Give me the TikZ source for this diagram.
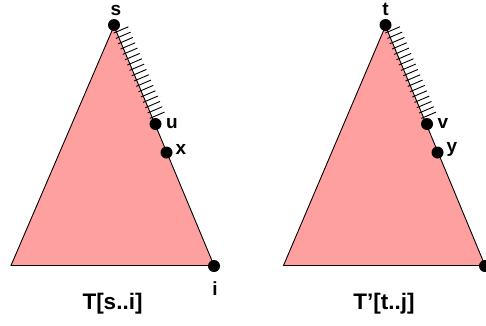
\documentclass[tikz,border=0pt]{standalone}
\usepackage{fontspec}
\setmainfont{Liberation Sans}
\usetikzlibrary{calc}
\definecolor{treepink}{RGB}{255,160,160}
\tikzset{
  tri/.style={fill=treepink,draw=black,line width=0.9pt,line join=miter},
  dot/.style={circle,fill=black,inner sep=0pt,minimum size=12pt},
  lbl/.style={font=\bfseries\fontsize{19}{19}\selectfont,inner sep=0pt,anchor=base},
  ttl/.style={font=\bfseries\fontsize{22.5}{22.5}\selectfont,inner sep=0pt,anchor=base},
  hatch/.style={line width=0.9pt}
}
\begin{document}
\begin{tikzpicture}[x=1pt,y=-1pt]
\useasboundingbox (0,0) rectangle (486,325);
% left tree
\coordinate (A1) at (114,26);
\coordinate (L1) at (11,265.5);
\coordinate (R1) at (214,265.5);
\filldraw[tri] (A1) -- (L1) -- (R1) -- cycle;
\node[dot] (s) at (114,25) {};
\node[dot] (u) at (155.5,124) {};
\node[dot] (x) at (166.5,152.5) {};
\node[dot] (i) at (214,266) {};
\foreach \k in {0,...,16} {
  \pgfmathsetmacro\f{0.06+\k*0.0544}
  \draw[hatch] ($(A1)!\f!(u)$) ++(-2.8,1.2) -- ++(14.7,-6.3);
}
\node[lbl] (sl) at (116,15) {s};
\node[lbl] (ul) at (172,128) {u};
\node[lbl] (xl) at (181,154) {x};
\node[lbl] (il) at (215,295) {i};
\node[ttl] (T1) at (112.5,309) {T[s..i]};
% right tree
\coordinate (A2) at (385.5,26);
\coordinate (L2) at (283.5,265.5);
\coordinate (R2) at (485,265.5);
\filldraw[tri] (A2) -- (L2) -- (R2) -- cycle;
\node[dot] (t) at (385.5,25) {};
\node[dot] (v) at (427,124) {};
\node[dot] (y) at (437.5,152.5) {};
\node[dot] (j) at (485,266) {};
\foreach \k in {0,...,16} {
  \pgfmathsetmacro\f{0.06+\k*0.0544}
  \draw[hatch] ($(A2)!\f!(v)$) ++(-2.8,1.2) -- ++(14.7,-6.3);
}
\node[lbl] (tl) at (385.5,15) {t};
\node[lbl] (vl) at (443,128) {v};
\node[lbl] (yl) at (452,152) {y};
\node[lbl] (jl) at (490,295) {j};
\node[ttl] (T2) at (384,309) {T’[t..j]};
\end{tikzpicture}
\end{document}
